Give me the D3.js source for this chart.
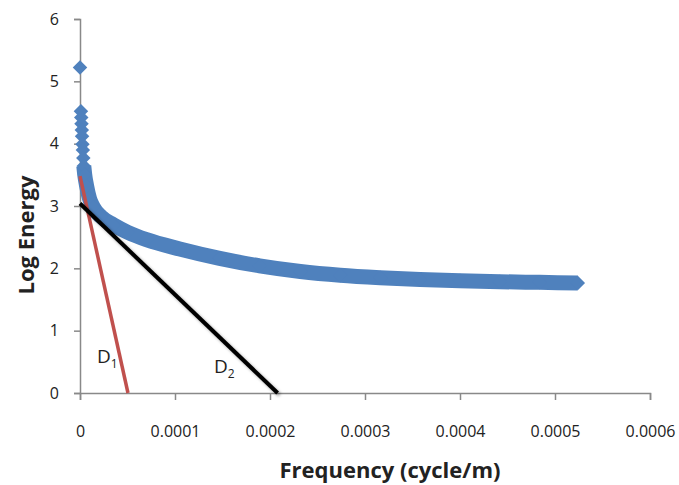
<!DOCTYPE html>
<html>
<head>
<meta charset="utf-8">
<script src="https://cdn.jsdelivr.net/npm/d3@7"></script>
<style>
  body { margin: 0; background: #fff; }
  text { font-family: "Open Sans", sans-serif; fill: #222; }
</style>
</head>
<body>
<div id="chart"></div>
<script>
// frequency (cycle/m) and log energy
const freq = [0, 1e-6, 1.3e-6, 1.6e-6, 1.9e-6, 2.2e-6, 2.6e-6, 3.0e-6, 3.5e-6, 4.0e-6,
  5e-6, 7e-6, 10e-6, 14e-6, 22e-6, 35e-6, 50e-6, 70e-6, 105e-6, 147e-6, 189e-6,
  232e-6, 274e-6, 316e-6, 358e-6, 400e-6, 442e-6, 484e-6, 524e-6];
const logEnergy = [5.22, 4.52, 4.42, 4.32, 4.22, 4.12, 3.99, 3.90, 3.77, 3.64,
  3.50, 3.32, 3.12, 2.98, 2.83, 2.70, 2.58, 2.46, 2.31, 2.16, 2.04,
  1.95, 1.89, 1.85, 1.82, 1.80, 1.785, 1.775, 1.765];

// the two straight lines D1 and D2
const d1 = [[0, 3.48], [5.05e-5, 0]];
const d2 = [[0, 3.04], [2.08e-4, 0]];

const xTicks = [0, 0.0001, 0.0002, 0.0003, 0.0004, 0.0005, 0.0006];
const yTicks = [0, 1, 2, 3, 4, 5, 6];

const data = freq.map((f, i) => ({ f: f, e: logEnergy[i] }));

let width = 679, height = 485;
let margin = { top: 19, bottom: 92, left: 80, right: 29 };

let svg = d3.select('#chart')
  .append('svg')
  .attr('width', width)
  .attr('height', height);

svg.append('defs').append('filter')
  .attr('id', 'shadow')
  .attr('x', '-20%').attr('y', '-20%')
  .attr('width', '140%').attr('height', '140%')
  .append('feDropShadow')
  .attr('dx', 2).attr('dy', 2)
  .attr('stdDeviation', 1.5)
  .attr('flood-color', '#000')
  .attr('flood-opacity', 0.35);

let xScale = d3.scaleLinear()
  .domain([0, 0.0006])
  .range([margin.left, width - margin.right]);

let yScale = d3.scaleLinear()
  .domain([0, 6])
  .range([height - margin.bottom, margin.top]);

// x axis
let xAxis = svg.append('g')
  .attr('transform', `translate(0, ${yScale(0)})`)
  .call(d3.axisBottom(xScale).tickValues(xTicks).tickSize(7).tickPadding(26)
    .tickFormat(d => d === 0 ? '0' : d3.format('.4f')(d)));

// y axis
let yAxis = svg.append('g')
  .attr('transform', `translate(${xScale(0)}, 0)`)
  .call(d3.axisLeft(yScale).tickValues(yTicks).tickSize(6).tickPadding(15)
    .tickFormat(d3.format('d')));

[xAxis, yAxis].forEach(g => {
  g.select('.domain').attr('stroke', '#898989').attr('stroke-width', 1.5);
  g.selectAll('.tick line').attr('stroke', '#898989').attr('stroke-width', 1.5);
  g.selectAll('.tick text')
    .style('font-family', '"Open Sans", sans-serif')
    .style('font-size', '16px')
    .attr('fill', '#222');
});

const blue = '#4F81BD';

// dense part of the series drawn as a thick band
let band = d3.line()
  .x(d => xScale(d.f))
  .y(d => yScale(d.e))
  .curve(d3.curveMonotoneX);

svg.append('path')
  .datum(data.filter(d => d.f >= 4e-6))
  .attr('d', band)
  .attr('fill', 'none')
  .attr('stroke', blue)
  .attr('stroke-width', 15)
  .attr('stroke-linejoin', 'round');

// diamond markers
let diamond = d3.symbol().type(d3.symbolSquare).size(105);
svg.selectAll('.pt')
  .data(data)
  .enter()
  .append('path')
  .attr('class', 'pt')
  .attr('d', diamond)
  .attr('transform', d => `translate(${xScale(d.f)}, ${yScale(d.e)}) rotate(45)`)
  .attr('fill', blue);

let straight = d3.line()
  .x(d => xScale(d[0]))
  .y(d => yScale(d[1]));

svg.append('path')
  .datum(d1)
  .attr('d', straight)
  .attr('stroke', '#C0504D')
  .attr('stroke-width', 3.5)
  .attr('fill', 'none');

svg.append('path')
  .datum(d2)
  .attr('d', straight)
  .attr('stroke', '#000')
  .attr('stroke-width', 4)
  .attr('fill', 'none')
  .attr('filter', 'url(#shadow)');

// line labels
function lineLabel(x, y, sub) {
  let t = svg.append('text')
    .attr('x', x)
    .attr('y', y)
    .style('font-size', '19px')
    .attr('fill', '#222');
  t.append('tspan').text('D');
  t.append('tspan').attr('dy', 5).style('font-size', '12px').text(sub);
}
lineLabel(97, 363, '1');
lineLabel(214, 373, '2');

// axis titles
svg.append('text')
  .attr('x', 390)
  .attr('y', 478)
  .attr('text-anchor', 'middle')
  .style('font-size', '22px')
  .style('font-weight', 'bold')
  .attr('fill', '#000')
  .text('Frequency (cycle/m)');

svg.append('text')
  .attr('transform', 'translate(34, 235) rotate(-90)')
  .attr('text-anchor', 'middle')
  .style('font-size', '22px')
  .style('font-weight', 'bold')
  .attr('fill', '#000')
  .text('Log Energy');
</script>
</body>
</html>
